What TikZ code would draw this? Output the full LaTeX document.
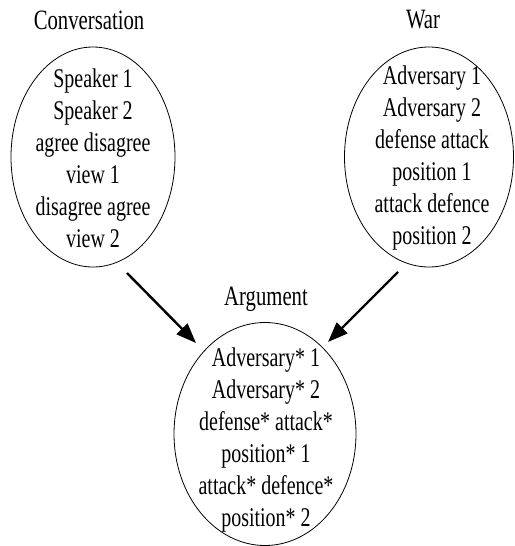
\documentclass[tikz,border=0pt]{standalone}
\usepackage{fontspec}
\setmainfont[FakeStretch=0.74]{Liberation Serif}
\usetikzlibrary{shapes.geometric,arrows.meta}
\begin{document}
\begin{tikzpicture}[x=1pt,y=-1pt,
  ell/.style={draw,ellipse,line width=0.8pt,inner sep=0pt},
  txt/.style={align=center,inner sep=0pt,font=\fontsize{27}{32}\selectfont},
  lbl/.style={inner sep=0pt,font=\fontsize{28}{32}\selectfont},
  arr/.style={line width=2.4pt,-{Triangle[length=20pt,width=15pt]}}]
\useasboundingbox (0,0) rectangle (514,546);
% top-left
\node[lbl] (convl) at (89,20) {Conversation};
\node[ell,minimum width=164pt,minimum height=220pt] (conv) at (93,157) {};
\node[txt] (convt) at (93,158) {Speaker 1\\Speaker 2\\agree disagree\\view 1\\disagree agree\\view 2};
% top-right
\node[lbl] (warl) at (423,20) {War};
\node[ell,minimum width=169pt,minimum height=220pt] (war) at (429,157) {};
\node[txt] (wart) at (432,158) {Adversary 1\\Adversary 2\\defense attack\\position 1\\attack defence\\position 2};
% bottom
\node[lbl] (argl) at (266,299) {Argument};
\node[ell,minimum width=182pt,minimum height=223pt] (arg) at (265,434) {};
\node[txt] (argt) at (266,440) {Adversary* 1\\Adversary* 2\\defense* attack*\\position* 1\\attack* defence*\\position* 2};
% arrows
\coordinate (s1) at (127,273);
\coordinate (e1) at (196,343);
\coordinate (s2) at (398,272);
\coordinate (e2) at (328,342);
\draw[arr] (s1) -- (e1);
\draw[arr] (s2) -- (e2);
\end{tikzpicture}
\end{document}
